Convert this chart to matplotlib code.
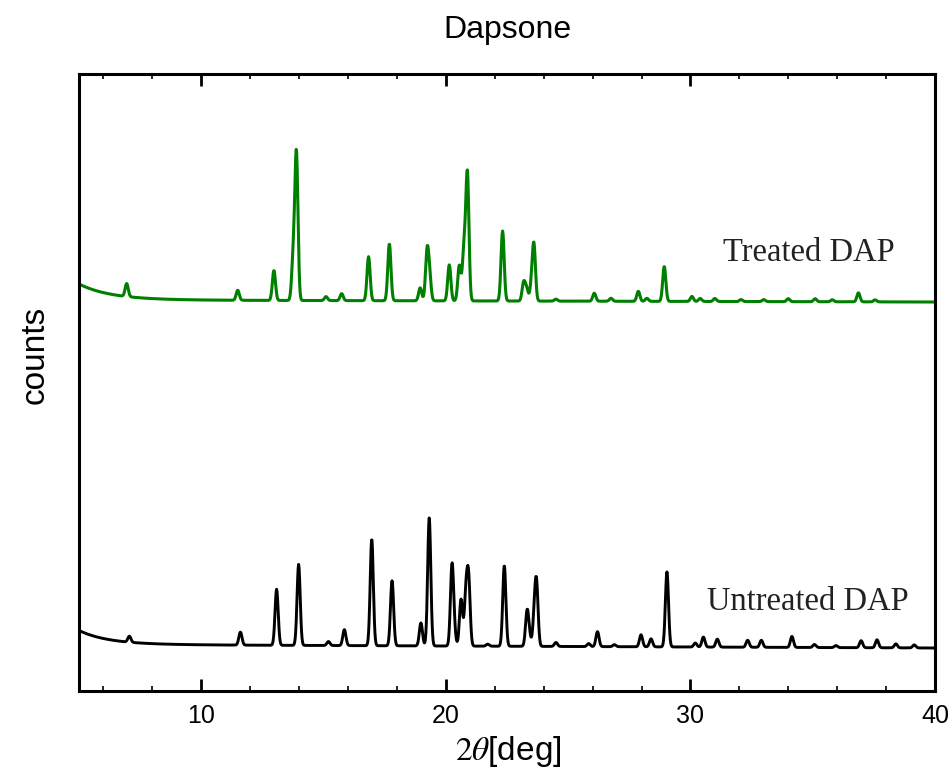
import numpy as np
import matplotlib
matplotlib.use("Agg")
import matplotlib.pyplot as plt

# ---- diffraction peaks: position (deg 2theta) and apex height above background (counts)
treated_pos = [6.95, 11.49, 12.97, 13.76, 13.89, 15.10, 15.74, 16.84, 17.69, 18.95,
               19.23, 19.33, 20.14, 20.55, 20.74, 20.88, 22.32, 23.18, 23.30, 23.50,
               23.60, 24.50, 26.07, 26.75, 27.87, 28.22, 28.93, 30.06, 30.40, 31.00,
               32.07, 33.00, 34.00, 35.10, 35.80, 36.87, 37.55]
treated_height = [13, 10, 30, 60, 151, 4, 7, 44, 57, 13,
                  54, 38, 36, 36, 62, 131, 70, 20, 15, 30,
                  59, 2, 8, 3, 10, 3, 35, 5, 3, 3,
                  2, 2, 3, 3, 2, 9, 2]

untreated_pos = [7.06, 11.60, 13.08, 13.98, 15.20, 15.85, 16.97, 17.80, 18.98, 19.32,
                 20.25, 20.34, 20.62, 20.82, 20.93, 21.71, 22.39, 23.32, 23.41, 23.62,
                 23.71, 24.50, 25.84, 26.20, 26.89, 27.98, 28.39, 29.04, 30.20, 30.53,
                 31.10, 32.34, 32.90, 34.15, 35.07, 35.95, 36.98, 37.63, 38.40, 39.15]
untreated_height = [6, 13, 56, 81, 4, 16, 107, 65, 23, 128,
                    83, 42, 47, 65, 76, 2, 81, 37, 22, 50,
                    68, 4, 3, 15, 2, 12, 8, 75, 4, 10,
                    8, 7, 7, 11, 3, 2, 7, 8, 4, 3]

# background: level at 5 deg, plateau level, decay width (deg), drift over the scan
treated_bg = dict(start=406.5, plateau=390.5, decay=1.3, drift=-2.0)
untreated_bg = dict(start=60.0, plateau=46.0, decay=1.2, drift=-3.5)

peak_fwhm = 0.15
two_theta = np.arange(5.0, 40.0 + 1e-9, 0.02)


def gauss(x, c, fwhm):
    return np.exp(-4.0 * np.log(2.0) * (np.asarray(x) - c) ** 2 / fwhm ** 2)


def pattern(x, pos, height, bg):
    pos = np.asarray(pos, float)
    height = np.asarray(height, float)
    # amplitudes chosen so the summed profile reaches the listed apex heights
    g = gauss(pos[:, None], pos[None, :], peak_fwhm)
    amp = np.linalg.solve(g, height)
    y = (gauss(x[:, None], pos[None, :], peak_fwhm) * amp).sum(axis=1)
    back = (bg["plateau"] + (bg["start"] - bg["plateau"]) * np.exp(-(x - 5.0) / bg["decay"])
            + bg["drift"] * (x - 5.0) / 35.0)
    return y + back


treated = pattern(two_theta, treated_pos, treated_height, treated_bg)
untreated = pattern(two_theta, untreated_pos, untreated_height, untreated_bg)

plt.rcParams["mathtext.fontset"] = "stix"
plt.rcParams["font.family"] = ["Liberation Sans", "DejaVu Sans"]

W, H = 948, 772
fig = plt.figure(figsize=(W / 100, H / 100), dpi=100)
ax = fig.add_axes([79 / W, 1 - 690.5 / H, (935 - 79) / W, (690.5 - 73.5) / H])

ax.plot(two_theta, treated, color="#008000", lw=2.2)
ax.plot(two_theta, untreated, color="black", lw=2.1)

ax.set_xlim(5, 40)
ax.set_ylim(0, 617)
ax.set_xticks([10, 20, 30, 40])
ax.set_xticks(np.arange(6, 40, 2), minor=True)
ax.set_yticks([])
ax.tick_params(axis="x", which="both", direction="in", top=True, bottom=True,
               labelsize=18, pad=10, width=2.0)
ax.tick_params(axis="x", which="major", length=8.5)
ax.tick_params(axis="x", which="minor", length=3.6, width=1.2)
for s in ax.spines.values():
    s.set_linewidth(2.2)

serif = ["Liberation Serif", "DejaVu Serif"]
ax.text(31.34, 429.8, "Treated DAP", family=serif, fontsize=23.5,
        ha="left", va="baseline", color="#222222")
ax.text(30.69, 80.5, "Untreated DAP", family=serif, fontsize=23.5,
        ha="left", va="baseline", color="#222222")

fig.text(507 / W, 1 - 38 / H, "Dapsone", fontsize=23, ha="center", va="baseline")
fig.text(508 / W, 1 - 760 / H, r"$2\theta$[deg]", fontsize=24, ha="center", va="baseline")
fig.text(35 / W, 1 - 355 / H, "counts", fontsize=24, rotation=90, ha="center", va="center")

fig.savefig("out.png", dpi=100)
